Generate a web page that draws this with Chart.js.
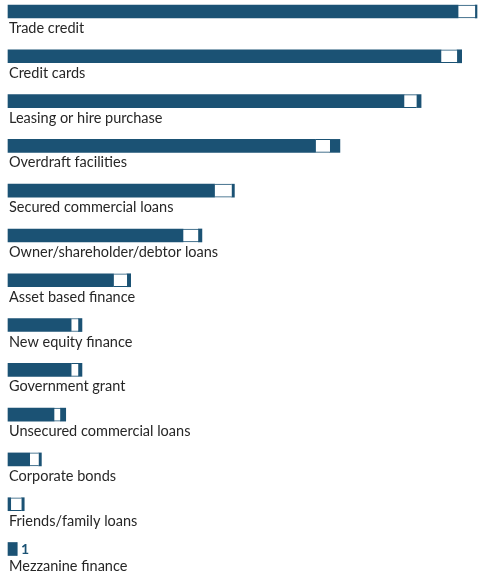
<!DOCTYPE html>
<html>
<head>
<meta charset="utf-8">
<script src="https://cdn.jsdelivr.net/npm/chart.js@4/dist/chart.umd.min.js"></script>
<style>
  html, body { margin: 0; padding: 0; background: #fff; }
  #wrap { position: relative; width: 478px; height: 573px; }
</style>
</head>
<body>
<div id="wrap"><canvas id="financeChart"></canvas></div>
<script>
  // Finance types, largest first
  const categories = [
    'Trade credit',
    'Credit cards',
    'Leasing or hire purchase',
    'Overdraft facilities',
    'Secured commercial loans',
    'Owner/shareholder/debtor loans',
    'Asset based finance',
    'New equity finance',
    'Government grant',
    'Unsecured commercial loans',
    'Corporate bonds',
    'Friends/family loans',
    'Mezzanine finance',
  ];

  // Three stacked segments per bar: solid, open box, solid tail
  const solidValues = [49.9, 48.0, 43.9, 34.1, 22.9, 19.4, 11.7, 7.0, 7.0, 5.1, 2.4, 0.3, 1];
  const openValues  = [1.9, 1.8, 1.4, 1.6, 1.9, 1.7, 1.5, 0.8, 0.8, 0.7, 1.0, 1.2, 0];
  const tailValues  = [0.2, 0.5, 0.5, 1.1, 0.3, 0.4, 0.4, 0.4, 0.4, 0.6, 0.3, 0.3, 0];

  // Which bars carry their total as a number
  const showTotal = [false, false, false, false, false, false, false, false, false, false, false, false, true];

  const axisMax = 52;

  const BLUE = '#1b5274';
  const TEXT = '#262626';

  // Category names sit under each bar, plus the odd total at the bar end
  const barLabels = {
    id: 'barLabels',
    afterDatasetsDraw(chart) {
      const ctx = chart.ctx;
      const first = chart.getDatasetMeta(0).data;
      ctx.save();
      first.forEach((bar, i) => {
        ctx.font = '14.5px Lato, sans-serif';
        ctx.fillStyle = TEXT;
        ctx.textAlign = 'left';
        ctx.textBaseline = 'alphabetic';
        ctx.fillText(categories[i], chart.chartArea.left + 1, bar.y + 21.5);

        if (showTotal[i]) {
          const total = solidValues[i] + openValues[i] + tailValues[i];
          const end = chart.scales.x.getPixelForValue(total);
          ctx.font = 'bold 14px Lato, sans-serif';
          ctx.fillStyle = BLUE;
          ctx.textBaseline = 'middle';
          ctx.fillText(String(total), end + 4, bar.y + 0.5);
        }
      });
      ctx.restore();
    },
  };

  new Chart(document.getElementById('financeChart'), {
    type: 'bar',
    data: {
      labels: categories,
      datasets: [
        {
          data: solidValues,
          backgroundColor: BLUE,
          borderWidth: 0,
        },
        {
          data: openValues,
          backgroundColor: '#ffffff',
          borderColor: BLUE,
          borderWidth: { top: 1, bottom: 1, left: 0, right: 0 },
          borderSkipped: false,
        },
        {
          data: tailValues,
          backgroundColor: BLUE,
          borderWidth: 0,
        },
      ],
    },
    options: {
      indexAxis: 'y',
      responsive: true,
      maintainAspectRatio: false,
      animation: false,
      barThickness: 13,
      clip: false,
      layout: {
        padding: { left: 8, right: 1, top: 11.5, bottom: 24 },
      },
      scales: {
        x: {
          stacked: true,
          min: 0,
          max: axisMax,
          display: false,
        },
        y: {
          stacked: true,
          offset: false,
          display: false,
        },
      },
      plugins: {
        legend: { display: false },
        tooltip: { enabled: false },
      },
    },
    plugins: [barLabels],
  });
</script>
</body>
</html>
